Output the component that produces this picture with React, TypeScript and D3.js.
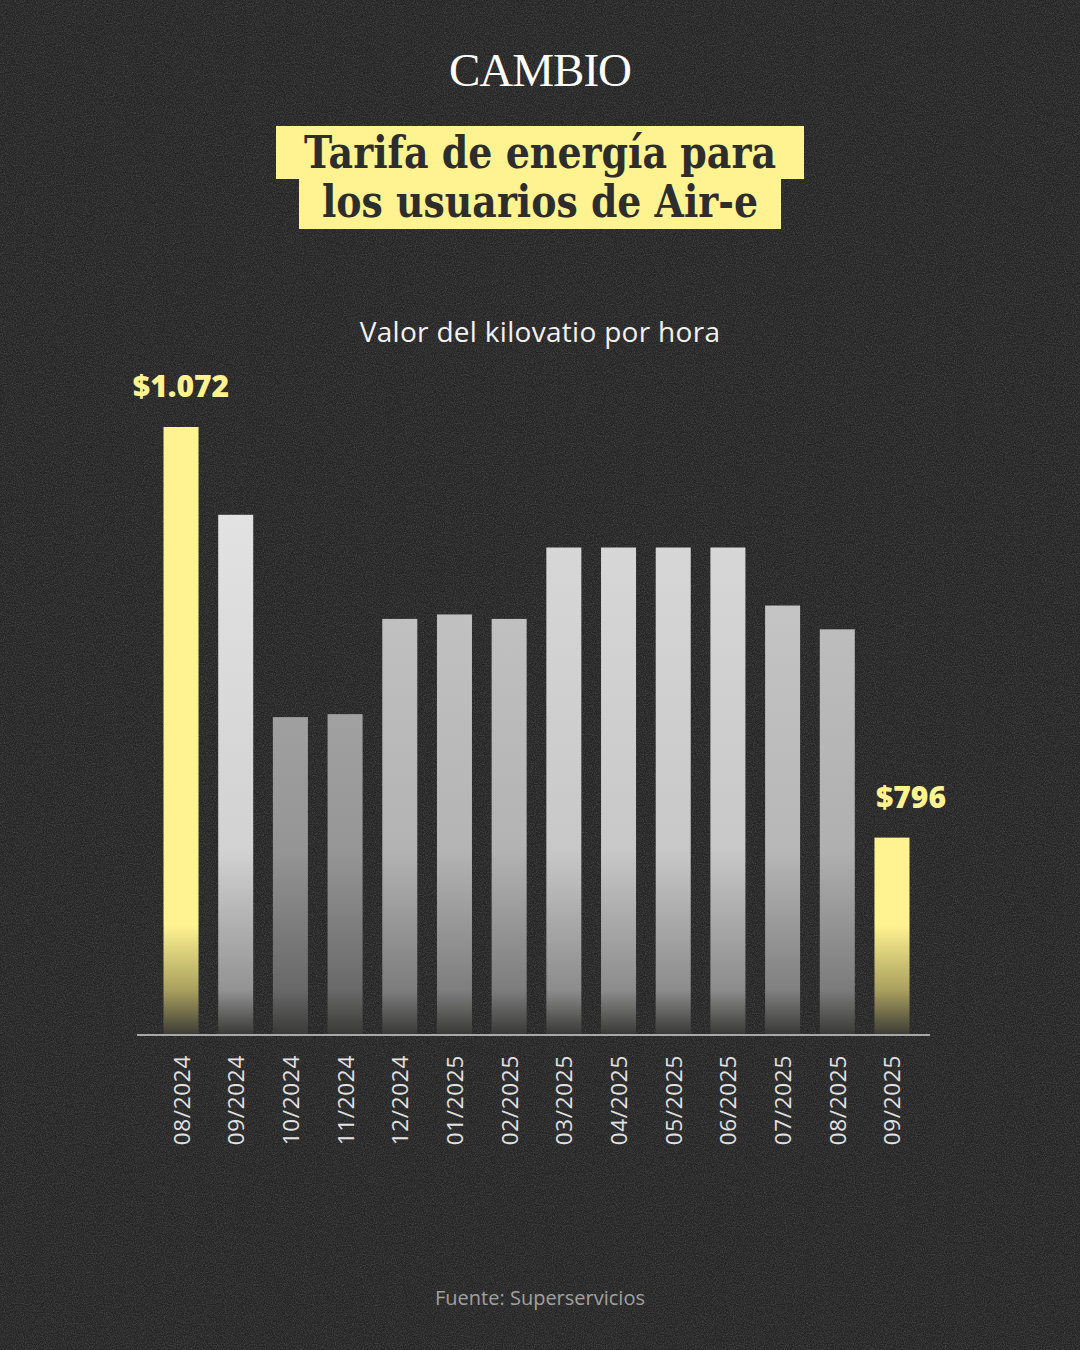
import React from "react";
import * as d3 from "d3";

const months = ["08/2024","09/2024","10/2024","11/2024","12/2024","01/2025","02/2025","03/2025","04/2025","05/2025","06/2025","07/2025","08/2025","09/2025"];
const values = [1072, 1013, 877, 879, 943, 946, 943, 991, 991, 991, 991, 952, 936, 796];
const highlighted = ["08/2024", "09/2025"];
const valueLabels = ["$1.072", "$796"];
const titleLines = ["Tarifa de energía para", "los usuarios de Air-e"];
const subtitle = "Valor del kilovatio por hora";
const source = "Fuente: Superservicios";
const brand = "CAMBIO";

const W = 1080, H = 1350;
const BASE = 1034, TOP = 427;
const SANS = "'Open Sans', Lato, 'Noto Sans', sans-serif";

export default function App() {
  const x = d3.scaleBand<string>().domain(months).range([140, 933]).paddingInner(0.36).paddingOuter(0.43);
  const y = d3.scaleLinear().domain([664, 1072]).range([BASE, TOP]);
  const grayTop = d3.scaleLinear<string>().domain([877, 1013]).range(["#a0a0a0", "#e2e2e2"]).clamp(true);
  const yellow = "#fff391";

  return (
    <svg width={W} height={H} viewBox={`0 0 ${W} ${H}`} style={{ position: "absolute", left: 0, top: 0, display: "block" }}>
      <defs>
        <filter id="noise" x="0" y="0" width="100%" height="100%">
          <feTurbulence type="fractalNoise" baseFrequency="0.9" numOctaves={2} seed={3} result="t" />
          <feColorMatrix type="matrix" values="0 0 0 0 0.5  0 0 0 0 0.5  0 0 0 0 0.5  0 0 0 1.6 -0.55" />
        </filter>
        {months.map((m, i) => {
          const v = values[i];
          const top = y(v);
          const isH = highlighted.includes(m);
          const fadeStart = isH ? 925 : 850;
          const off = Math.max(0, Math.min(1, (fadeStart - top) / (BASE - top)));
          const c = isH ? yellow : grayTop(v);
          const off2 = Math.max(off, (990 - top) / (BASE - top));
          return (
            <linearGradient key={m} id={`g${i}`} gradientUnits="userSpaceOnUse" x1={0} x2={0} y1={top} y2={BASE}>
              <stop offset={0} stopColor={c} />
              <stop offset={off} stopColor={isH ? yellow : d3.color(c)!.darker(0.2).formatHex()} />
              <stop offset={off2} stopColor={isH ? "#a9a05e" : d3.color(c)!.darker(1.2).formatHex()} />
              <stop offset={1} stopColor={isH ? "#3e3d36" : "#393a38"} />
            </linearGradient>
          );
        })}
      </defs>
      <rect width={W} height={H} fill="#252525" />
      <rect width={W} height={H} filter="url(#noise)" opacity={0.25} />

      <text x={540} y={86} textAnchor="middle" fill="#ffffff" fontFamily="'Liberation Serif', 'DejaVu Serif', serif" fontSize={47} letterSpacing={-1}>{brand}</text>

      <rect x={276} y={126} width={528} height={53} fill={yellow} />
      <rect x={299} y={179} width={482} height={50} fill={yellow} />
      <text x={540} y={168} textAnchor="middle" fill="#2d2d2d" fontFamily="'DejaVu Serif', serif" fontWeight="bold" fontSize={44} textLength={472} lengthAdjust="spacingAndGlyphs">{titleLines[0]}</text>
      <text x={540} y={217} textAnchor="middle" fill="#2d2d2d" fontFamily="'DejaVu Serif', serif" fontWeight="bold" fontSize={44} textLength={436} lengthAdjust="spacingAndGlyphs">{titleLines[1]}</text>

      <text x={540} y={342} textAnchor="middle" fill="#f2f2f2" fontFamily={SANS} fontSize={28} letterSpacing={0.3}>{subtitle}</text>

      {months.map((m, i) => (
        <rect key={m} x={x(m)} y={y(values[i])} width={x.bandwidth()} height={BASE - y(values[i])} fill={`url(#g${i})`} />
      ))}

      <line x1={x.range()[0] - 3} x2={x.range()[1] - 3} y1={BASE + 1} y2={BASE + 1} stroke="#a8a8a8" strokeWidth={2} />

      {months.map((m) => {
        const cx = (x(m) as number) + x.bandwidth() / 2;
        return (
          <text key={m} transform={`translate(${cx},${BASE + 21}) rotate(-90)`} textAnchor="end" dominantBaseline="central" fill="#e2e2e2" fontFamily={SANS} fontSize={22.5} letterSpacing={0.7}>{m}</text>
        );
      })}

      {highlighted.map((m, k) => {
        const i = months.indexOf(m);
        const cx = (x(m) as number) + x.bandwidth() / 2 + (k === 1 ? 19 : 0);
        return (
          <text key={m} x={cx} y={y(values[i]) - 30} textAnchor="middle" fill={yellow} fontFamily={SANS} fontWeight={800} fontSize={30}>{valueLabels[k]}</text>
        );
      })}

      <text x={540} y={1305} textAnchor="middle" fill="#a0a0a0" fontFamily={SANS} fontSize={20}>{source}</text>
    </svg>
  );
}
